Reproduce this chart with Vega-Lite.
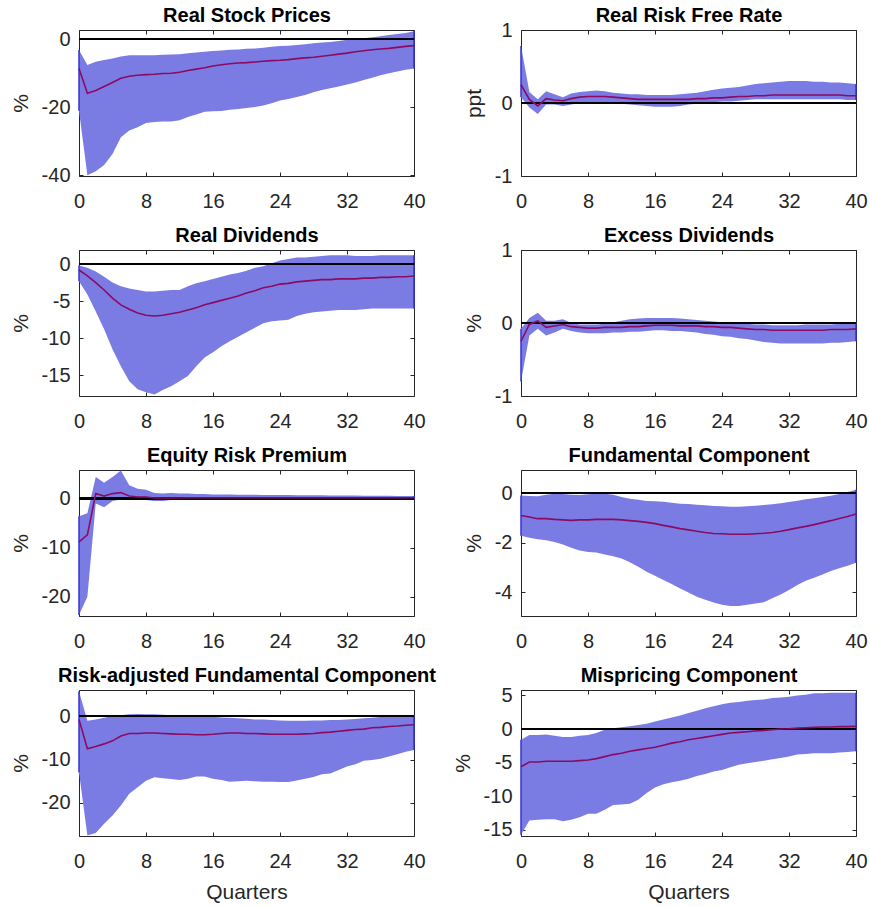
{
  "$schema": "https://vega.github.io/schema/vega-lite/v6.json",
  "padding": {"left": 9, "top": 4, "right": 5, "bottom": 3},
  "background": "white",
  "bounds": "flush",
  "columns": 2,
  "spacing": {"row": 74, "column": 107},
  "datasets": {
    "rsp": [
      {"q":0,"lo":-21,"med":-8.6,"hi":-3.2},{"q":1,"lo":-40,"med":-15.9,"hi":-7.6},{"q":2,"lo":-38.8,"med":-15.1,"hi":-6.6},{"q":3,"lo":-37,"med":-13.9,"hi":-6.1},{"q":4,"lo":-33.7,"med":-12.7,"hi":-5.7},{"q":5,"lo":-28.8,"med":-11.5,"hi":-5.1},{"q":6,"lo":-26.8,"med":-10.9,"hi":-4.7},{"q":7,"lo":-25.9,"med":-10.6,"hi":-4.7},{"q":8,"lo":-24.6,"med":-10.4,"hi":-4.7},{"q":9,"lo":-24.3,"med":-10.3,"hi":-4.7},{"q":10,"lo":-24.2,"med":-10.1,"hi":-4.6},{"q":11,"lo":-24.2,"med":-10.0,"hi":-4.5},{"q":12,"lo":-23.8,"med":-9.7,"hi":-4.4},{"q":13,"lo":-22.9,"med":-9.2,"hi":-4.1},{"q":14,"lo":-22.1,"med":-8.8,"hi":-3.9},{"q":15,"lo":-21.3,"med":-8.4,"hi":-3.7},{"q":16,"lo":-21.2,"med":-7.9,"hi":-3.5},{"q":17,"lo":-21.1,"med":-7.5,"hi":-3.3},{"q":18,"lo":-20.7,"med":-7.2,"hi":-3.1},{"q":19,"lo":-20.5,"med":-7.0,"hi":-3.0},{"q":20,"lo":-20.2,"med":-6.9,"hi":-2.8},{"q":21,"lo":-19.9,"med":-6.7,"hi":-2.7},{"q":22,"lo":-19.5,"med":-6.5,"hi":-2.5},{"q":23,"lo":-18.8,"med":-6.3,"hi":-2.2},{"q":24,"lo":-18.0,"med":-6.2,"hi":-2.0},{"q":25,"lo":-17.6,"med":-6.0,"hi":-1.9},{"q":26,"lo":-17.0,"med":-5.7,"hi":-1.7},{"q":27,"lo":-16.4,"med":-5.5,"hi":-1.5},{"q":28,"lo":-15.6,"med":-5.3,"hi":-1.2},{"q":29,"lo":-14.9,"med":-5.0,"hi":-1.0},{"q":30,"lo":-14.4,"med":-4.7,"hi":-0.8},{"q":31,"lo":-13.9,"med":-4.4,"hi":-0.5},{"q":32,"lo":-13.3,"med":-4.1,"hi":-0.2},{"q":33,"lo":-12.7,"med":-3.7,"hi":0.0},{"q":34,"lo":-12.0,"med":-3.4,"hi":0.3},{"q":35,"lo":-11.3,"med":-3.1,"hi":0.6},{"q":36,"lo":-10.6,"med":-2.9,"hi":0.9},{"q":37,"lo":-10.0,"med":-2.7,"hi":1.2},{"q":38,"lo":-9.5,"med":-2.4,"hi":1.5},{"q":39,"lo":-9.0,"med":-2.1,"hi":1.8},{"q":40,"lo":-8.6,"med":-1.9,"hi":2.3}
    ],
    "rrf": [
      {"q":0,"lo":0.08,"med":0.25,"hi":0.78},{"q":1,"lo":-0.06,"med":0.05,"hi":0.15},{"q":2,"lo":-0.15,"med":-0.04,"hi":0.05},{"q":3,"lo":-0.02,"med":0.06,"hi":0.16},{"q":4,"lo":-0.02,"med":0.04,"hi":0.12},{"q":5,"lo":-0.04,"med":0.03,"hi":0.08},{"q":6,"lo":-0.02,"med":0.06,"hi":0.13},{"q":7,"lo":0.0,"med":0.08,"hi":0.15},{"q":8,"lo":0.01,"med":0.09,"hi":0.16},{"q":9,"lo":0.01,"med":0.09,"hi":0.17},{"q":10,"lo":0.0,"med":0.09,"hi":0.16},{"q":11,"lo":-0.01,"med":0.08,"hi":0.14},{"q":12,"lo":-0.01,"med":0.07,"hi":0.13},{"q":13,"lo":-0.02,"med":0.06,"hi":0.12},{"q":14,"lo":-0.03,"med":0.05,"hi":0.12},{"q":15,"lo":-0.04,"med":0.05,"hi":0.11},{"q":16,"lo":-0.05,"med":0.05,"hi":0.11},{"q":17,"lo":-0.05,"med":0.05,"hi":0.11},{"q":18,"lo":-0.05,"med":0.05,"hi":0.11},{"q":19,"lo":-0.04,"med":0.05,"hi":0.12},{"q":20,"lo":-0.02,"med":0.05,"hi":0.13},{"q":21,"lo":-0.01,"med":0.06,"hi":0.14},{"q":22,"lo":0.0,"med":0.06,"hi":0.16},{"q":23,"lo":0.01,"med":0.07,"hi":0.18},{"q":24,"lo":0.02,"med":0.07,"hi":0.2},{"q":25,"lo":0.02,"med":0.08,"hi":0.21},{"q":26,"lo":0.03,"med":0.09,"hi":0.22},{"q":27,"lo":0.04,"med":0.09,"hi":0.24},{"q":28,"lo":0.05,"med":0.1,"hi":0.26},{"q":29,"lo":0.05,"med":0.1,"hi":0.27},{"q":30,"lo":0.05,"med":0.11,"hi":0.28},{"q":31,"lo":0.05,"med":0.11,"hi":0.29},{"q":32,"lo":0.05,"med":0.11,"hi":0.3},{"q":33,"lo":0.05,"med":0.11,"hi":0.3},{"q":34,"lo":0.05,"med":0.11,"hi":0.3},{"q":35,"lo":0.05,"med":0.11,"hi":0.29},{"q":36,"lo":0.05,"med":0.11,"hi":0.29},{"q":37,"lo":0.05,"med":0.11,"hi":0.28},{"q":38,"lo":0.05,"med":0.11,"hi":0.28},{"q":39,"lo":0.04,"med":0.1,"hi":0.27},{"q":40,"lo":0.04,"med":0.1,"hi":0.26}
    ],
    "rd": [
      {"q":0,"lo":-2.3,"med":-0.8,"hi":-0.2},{"q":1,"lo":-4.1,"med":-1.6,"hi":-0.5},{"q":2,"lo":-6.4,"med":-2.5,"hi":-1.0},{"q":3,"lo":-8.8,"med":-3.5,"hi":-1.7},{"q":4,"lo":-11.5,"med":-4.6,"hi":-2.5},{"q":5,"lo":-13.8,"med":-5.5,"hi":-3.0},{"q":6,"lo":-15.8,"med":-6.1,"hi":-3.3},{"q":7,"lo":-16.9,"med":-6.6,"hi":-3.5},{"q":8,"lo":-17.3,"med":-6.9,"hi":-3.7},{"q":9,"lo":-17.6,"med":-7.0,"hi":-3.7},{"q":10,"lo":-17.0,"med":-6.9,"hi":-3.6},{"q":11,"lo":-16.5,"med":-6.7,"hi":-3.5},{"q":12,"lo":-15.8,"med":-6.5,"hi":-3.5},{"q":13,"lo":-15.1,"med":-6.2,"hi":-3.0},{"q":14,"lo":-13.8,"med":-5.9,"hi":-2.6},{"q":15,"lo":-12.6,"med":-5.5,"hi":-2.3},{"q":16,"lo":-11.9,"med":-5.2,"hi":-2.0},{"q":17,"lo":-11.1,"med":-4.9,"hi":-1.7},{"q":18,"lo":-10.4,"med":-4.6,"hi":-1.4},{"q":19,"lo":-9.8,"med":-4.3,"hi":-1.2},{"q":20,"lo":-9.2,"med":-3.9,"hi":-0.9},{"q":21,"lo":-8.6,"med":-3.6,"hi":-0.5},{"q":22,"lo":-8.0,"med":-3.2,"hi":-0.3},{"q":23,"lo":-7.7,"med":-3.0,"hi":0.1},{"q":24,"lo":-7.6,"med":-2.7,"hi":0.5},{"q":25,"lo":-7.5,"med":-2.6,"hi":0.7},{"q":26,"lo":-7.0,"med":-2.4,"hi":0.9},{"q":27,"lo":-6.7,"med":-2.3,"hi":0.9},{"q":28,"lo":-6.5,"med":-2.2,"hi":1.0},{"q":29,"lo":-6.4,"med":-2.1,"hi":1.1},{"q":30,"lo":-6.3,"med":-2.1,"hi":1.2},{"q":31,"lo":-6.2,"med":-2.0,"hi":1.2},{"q":32,"lo":-6.2,"med":-2.0,"hi":1.2},{"q":33,"lo":-6.2,"med":-2.0,"hi":1.1},{"q":34,"lo":-6.1,"med":-1.9,"hi":1.1},{"q":35,"lo":-6.0,"med":-1.9,"hi":1.1},{"q":36,"lo":-6.0,"med":-1.8,"hi":1.2},{"q":37,"lo":-6.0,"med":-1.8,"hi":1.2},{"q":38,"lo":-6.0,"med":-1.7,"hi":1.2},{"q":39,"lo":-6.0,"med":-1.7,"hi":1.2},{"q":40,"lo":-6.0,"med":-1.6,"hi":1.2}
    ],
    "ed": [
      {"q":0,"lo":-0.8,"med":-0.25,"hi":-0.08},{"q":1,"lo":-0.17,"med":-0.02,"hi":0.07},{"q":2,"lo":-0.08,"med":0.03,"hi":0.14},{"q":3,"lo":-0.17,"med":-0.06,"hi":0.03},{"q":4,"lo":-0.13,"med":-0.04,"hi":0.03},{"q":5,"lo":-0.08,"med":-0.02,"hi":0.05},{"q":6,"lo":-0.11,"med":-0.05,"hi":0.0},{"q":7,"lo":-0.13,"med":-0.06,"hi":-0.02},{"q":8,"lo":-0.14,"med":-0.07,"hi":-0.02},{"q":9,"lo":-0.14,"med":-0.07,"hi":-0.02},{"q":10,"lo":-0.14,"med":-0.06,"hi":-0.01},{"q":11,"lo":-0.13,"med":-0.06,"hi":0.01},{"q":12,"lo":-0.13,"med":-0.06,"hi":0.03},{"q":13,"lo":-0.12,"med":-0.05,"hi":0.05},{"q":14,"lo":-0.12,"med":-0.05,"hi":0.06},{"q":15,"lo":-0.11,"med":-0.04,"hi":0.07},{"q":16,"lo":-0.1,"med":-0.03,"hi":0.07},{"q":17,"lo":-0.1,"med":-0.03,"hi":0.07},{"q":18,"lo":-0.11,"med":-0.03,"hi":0.07},{"q":19,"lo":-0.11,"med":-0.04,"hi":0.06},{"q":20,"lo":-0.12,"med":-0.04,"hi":0.05},{"q":21,"lo":-0.13,"med":-0.04,"hi":0.04},{"q":22,"lo":-0.15,"med":-0.05,"hi":0.03},{"q":23,"lo":-0.16,"med":-0.05,"hi":0.02},{"q":24,"lo":-0.18,"med":-0.06,"hi":0.01},{"q":25,"lo":-0.19,"med":-0.06,"hi":0.0},{"q":26,"lo":-0.21,"med":-0.07,"hi":0.0},{"q":27,"lo":-0.22,"med":-0.08,"hi":-0.01},{"q":28,"lo":-0.24,"med":-0.09,"hi":-0.02},{"q":29,"lo":-0.26,"med":-0.09,"hi":-0.02},{"q":30,"lo":-0.27,"med":-0.1,"hi":-0.03},{"q":31,"lo":-0.28,"med":-0.1,"hi":-0.03},{"q":32,"lo":-0.28,"med":-0.1,"hi":-0.03},{"q":33,"lo":-0.28,"med":-0.1,"hi":-0.03},{"q":34,"lo":-0.28,"med":-0.1,"hi":-0.02},{"q":35,"lo":-0.28,"med":-0.1,"hi":-0.02},{"q":36,"lo":-0.28,"med":-0.1,"hi":-0.02},{"q":37,"lo":-0.27,"med":-0.09,"hi":-0.02},{"q":38,"lo":-0.27,"med":-0.09,"hi":-0.01},{"q":39,"lo":-0.26,"med":-0.09,"hi":-0.01},{"q":40,"lo":-0.25,"med":-0.08,"hi":0.0}
    ],
    "erp": [
      {"q":0,"lo":-23.7,"med":-8.8,"hi":-3.6},{"q":1,"lo":-20.0,"med":-7.4,"hi":-3.0},{"q":2,"lo":-1.0,"med":1.0,"hi":4.4},{"q":3,"lo":-1.8,"med":0.5,"hi":3.2},{"q":4,"lo":-0.5,"med":1.0,"hi":4.4},{"q":5,"lo":-0.2,"med":1.2,"hi":5.7},{"q":6,"lo":-0.3,"med":0.5,"hi":2.7},{"q":7,"lo":-0.3,"med":0.3,"hi":2.0},{"q":8,"lo":-0.3,"med":0.3,"hi":1.8},{"q":9,"lo":-0.5,"med":0.1,"hi":1.1},{"q":10,"lo":-0.5,"med":0.1,"hi":1.0},{"q":11,"lo":-0.3,"med":0.1,"hi":1.1},{"q":12,"lo":-0.3,"med":0.1,"hi":1.0},{"q":13,"lo":-0.2,"med":0.15,"hi":1.0},{"q":14,"lo":-0.2,"med":0.15,"hi":0.9},{"q":15,"lo":-0.2,"med":0.15,"hi":0.9},{"q":16,"lo":-0.2,"med":0.15,"hi":0.8},{"q":17,"lo":-0.2,"med":0.15,"hi":0.8},{"q":18,"lo":-0.2,"med":0.15,"hi":0.8},{"q":19,"lo":-0.2,"med":0.15,"hi":0.78},{"q":20,"lo":-0.2,"med":0.15,"hi":0.75},{"q":21,"lo":-0.2,"med":0.15,"hi":0.74},{"q":22,"lo":-0.22,"med":0.15,"hi":0.72},{"q":23,"lo":-0.24,"med":0.15,"hi":0.71},{"q":24,"lo":-0.25,"med":0.15,"hi":0.7},{"q":25,"lo":-0.25,"med":0.15,"hi":0.69},{"q":26,"lo":-0.25,"med":0.15,"hi":0.68},{"q":27,"lo":-0.25,"med":0.15,"hi":0.66},{"q":28,"lo":-0.25,"med":0.15,"hi":0.65},{"q":29,"lo":-0.26,"med":0.15,"hi":0.64},{"q":30,"lo":-0.27,"med":0.15,"hi":0.62},{"q":31,"lo":-0.28,"med":0.15,"hi":0.61},{"q":32,"lo":-0.3,"med":0.15,"hi":0.6},{"q":33,"lo":-0.3,"med":0.15,"hi":0.59},{"q":34,"lo":-0.3,"med":0.15,"hi":0.58},{"q":35,"lo":-0.3,"med":0.15,"hi":0.56},{"q":36,"lo":-0.3,"med":0.15,"hi":0.55},{"q":37,"lo":-0.3,"med":0.15,"hi":0.54},{"q":38,"lo":-0.3,"med":0.15,"hi":0.52},{"q":39,"lo":-0.3,"med":0.15,"hi":0.51},{"q":40,"lo":-0.3,"med":0.15,"hi":0.5}
    ],
    "fc": [
      {"q":0,"lo":-1.72,"med":-0.9,"hi":-0.1},{"q":1,"lo":-1.8,"med":-0.96,"hi":-0.12},{"q":2,"lo":-1.86,"med":-1.03,"hi":-0.13},{"q":3,"lo":-1.9,"med":-1.03,"hi":-0.07},{"q":4,"lo":-1.97,"med":-1.06,"hi":-0.03},{"q":5,"lo":-2.07,"med":-1.08,"hi":-0.04},{"q":6,"lo":-2.2,"med":-1.1,"hi":-0.07},{"q":7,"lo":-2.31,"med":-1.08,"hi":-0.08},{"q":8,"lo":-2.37,"med":-1.08,"hi":-0.05},{"q":9,"lo":-2.39,"med":-1.06,"hi":-0.03},{"q":10,"lo":-2.47,"med":-1.06,"hi":-0.03},{"q":11,"lo":-2.54,"med":-1.06,"hi":-0.07},{"q":12,"lo":-2.63,"med":-1.08,"hi":-0.16},{"q":13,"lo":-2.79,"med":-1.11,"hi":-0.23},{"q":14,"lo":-2.97,"med":-1.14,"hi":-0.27},{"q":15,"lo":-3.17,"med":-1.18,"hi":-0.32},{"q":16,"lo":-3.33,"med":-1.23,"hi":-0.33},{"q":17,"lo":-3.5,"med":-1.3,"hi":-0.35},{"q":18,"lo":-3.66,"med":-1.36,"hi":-0.39},{"q":19,"lo":-3.84,"med":-1.43,"hi":-0.43},{"q":20,"lo":-4.0,"med":-1.48,"hi":-0.44},{"q":21,"lo":-4.17,"med":-1.54,"hi":-0.47},{"q":22,"lo":-4.3,"med":-1.59,"hi":-0.49},{"q":23,"lo":-4.41,"med":-1.63,"hi":-0.52},{"q":24,"lo":-4.5,"med":-1.64,"hi":-0.53},{"q":25,"lo":-4.55,"med":-1.66,"hi":-0.55},{"q":26,"lo":-4.55,"med":-1.66,"hi":-0.55},{"q":27,"lo":-4.5,"med":-1.66,"hi":-0.53},{"q":28,"lo":-4.45,"med":-1.64,"hi":-0.51},{"q":29,"lo":-4.4,"med":-1.62,"hi":-0.48},{"q":30,"lo":-4.24,"med":-1.59,"hi":-0.45},{"q":31,"lo":-4.08,"med":-1.54,"hi":-0.41},{"q":32,"lo":-3.9,"med":-1.47,"hi":-0.36},{"q":33,"lo":-3.7,"med":-1.4,"hi":-0.31},{"q":34,"lo":-3.53,"med":-1.34,"hi":-0.25},{"q":35,"lo":-3.41,"med":-1.27,"hi":-0.21},{"q":36,"lo":-3.28,"med":-1.19,"hi":-0.16},{"q":37,"lo":-3.14,"med":-1.11,"hi":-0.11},{"q":38,"lo":-3.03,"med":-1.02,"hi":-0.04},{"q":39,"lo":-2.93,"med":-0.94,"hi":0.04},{"q":40,"lo":-2.81,"med":-0.84,"hi":0.13}
    ],
    "rafc": [
      {"q":0,"lo":-13,"med":-0.8,"hi":5.7},{"q":1,"lo":-27.5,"med":-7.5,"hi":-1.1},{"q":2,"lo":-26.9,"med":-7.0,"hi":-0.8},{"q":3,"lo":-24.8,"med":-6.4,"hi":-0.4},{"q":4,"lo":-22.9,"med":-5.7,"hi":0.0},{"q":5,"lo":-20.6,"med":-4.6,"hi":0.2},{"q":6,"lo":-17.9,"med":-4.0,"hi":0.4},{"q":7,"lo":-16.4,"med":-4.0,"hi":0.5},{"q":8,"lo":-14.9,"med":-3.9,"hi":0.4},{"q":9,"lo":-14.1,"med":-3.9,"hi":0.4},{"q":10,"lo":-14.3,"med":-4.0,"hi":0.3},{"q":11,"lo":-14.5,"med":-4.1,"hi":0.2},{"q":12,"lo":-14.7,"med":-4.2,"hi":0.15},{"q":13,"lo":-14.4,"med":-4.2,"hi":0.1},{"q":14,"lo":-13.9,"med":-4.3,"hi":0.0},{"q":15,"lo":-13.9,"med":-4.3,"hi":-0.1},{"q":16,"lo":-14.4,"med":-4.2,"hi":-0.15},{"q":17,"lo":-14.7,"med":-4.0,"hi":-0.3},{"q":18,"lo":-15.1,"med":-3.9,"hi":-0.4},{"q":19,"lo":-15.0,"med":-3.9,"hi":-0.5},{"q":20,"lo":-14.9,"med":-4.0,"hi":-0.6},{"q":21,"lo":-15.0,"med":-4.0,"hi":-0.8},{"q":22,"lo":-15.1,"med":-4.1,"hi":-0.8},{"q":23,"lo":-15.1,"med":-4.2,"hi":-0.9},{"q":24,"lo":-15.2,"med":-4.2,"hi":-1.0},{"q":25,"lo":-15.2,"med":-4.2,"hi":-1.1},{"q":26,"lo":-14.8,"med":-4.2,"hi":-1.1},{"q":27,"lo":-14.4,"med":-4.1,"hi":-1.1},{"q":28,"lo":-14.0,"med":-4.0,"hi":-1.0},{"q":29,"lo":-13.4,"med":-3.8,"hi":-1.0},{"q":30,"lo":-13.2,"med":-3.7,"hi":-0.9},{"q":31,"lo":-12.4,"med":-3.5,"hi":-0.9},{"q":32,"lo":-11.6,"med":-3.3,"hi":-0.8},{"q":33,"lo":-11.1,"med":-3.1,"hi":-0.7},{"q":34,"lo":-10.3,"med":-3.0,"hi":-0.5},{"q":35,"lo":-10.1,"med":-2.7,"hi":-0.4},{"q":36,"lo":-9.8,"med":-2.6,"hi":-0.2},{"q":37,"lo":-9.3,"med":-2.4,"hi":-0.1},{"q":38,"lo":-8.8,"med":-2.3,"hi":0.1},{"q":39,"lo":-8.2,"med":-2.1,"hi":0.15},{"q":40,"lo":-7.8,"med":-2.0,"hi":0.2}
    ],
    "mc": [
      {"q":0,"lo":-15.7,"med":-5.6,"hi":-1.6},{"q":1,"lo":-13.6,"med":-4.9,"hi":-0.9},{"q":2,"lo":-13.5,"med":-4.9,"hi":-0.9},{"q":3,"lo":-13.4,"med":-4.8,"hi":-0.8},{"q":4,"lo":-13.4,"med":-4.8,"hi":-1.0},{"q":5,"lo":-13.7,"med":-4.8,"hi":-1.2},{"q":6,"lo":-13.5,"med":-4.8,"hi":-1.2},{"q":7,"lo":-13.1,"med":-4.7,"hi":-1.0},{"q":8,"lo":-12.6,"med":-4.6,"hi":-0.9},{"q":9,"lo":-12.6,"med":-4.4,"hi":-0.6},{"q":10,"lo":-12.0,"med":-4.1,"hi":-0.1},{"q":11,"lo":-11.3,"med":-3.8,"hi":0.1},{"q":12,"lo":-11.2,"med":-3.6,"hi":0.25},{"q":13,"lo":-11.1,"med":-3.3,"hi":0.4},{"q":14,"lo":-10.5,"med":-3.1,"hi":0.6},{"q":15,"lo":-9.5,"med":-2.9,"hi":0.8},{"q":16,"lo":-8.7,"med":-2.7,"hi":1.1},{"q":17,"lo":-8.2,"med":-2.4,"hi":1.4},{"q":18,"lo":-7.9,"med":-2.1,"hi":1.7},{"q":19,"lo":-7.7,"med":-1.9,"hi":2.0},{"q":20,"lo":-7.4,"med":-1.6,"hi":2.4},{"q":21,"lo":-7.0,"med":-1.4,"hi":2.7},{"q":22,"lo":-6.7,"med":-1.2,"hi":3.1},{"q":23,"lo":-6.3,"med":-1.0,"hi":3.4},{"q":24,"lo":-6.1,"med":-0.8,"hi":3.7},{"q":25,"lo":-5.7,"med":-0.6,"hi":3.9},{"q":26,"lo":-5.3,"med":-0.5,"hi":4.0},{"q":27,"lo":-5.1,"med":-0.4,"hi":4.2},{"q":28,"lo":-4.9,"med":-0.3,"hi":4.3},{"q":29,"lo":-4.7,"med":-0.2,"hi":4.4},{"q":30,"lo":-4.5,"med":-0.1,"hi":4.6},{"q":31,"lo":-4.3,"med":0.0,"hi":4.7},{"q":32,"lo":-4.1,"med":0.05,"hi":4.8},{"q":33,"lo":-3.8,"med":0.15,"hi":5.0},{"q":34,"lo":-3.7,"med":0.2,"hi":5.1},{"q":35,"lo":-3.6,"med":0.25,"hi":5.3},{"q":36,"lo":-3.6,"med":0.3,"hi":5.3},{"q":37,"lo":-3.6,"med":0.3,"hi":5.4},{"q":38,"lo":-3.5,"med":0.35,"hi":5.4},{"q":39,"lo":-3.4,"med":0.35,"hi":5.4},{"q":40,"lo":-3.3,"med":0.4,"hi":5.4}
    ]
  },
  "concat": [
    {
      "width": 335, "height": 146, "data": {"name": "rsp"},
      "layer": [
        {"mark": {"type": "area", "color": "#7b7be4", "opacity": 1},
         "encoding": {
           "x": {"field": "q", "type": "quantitative", "scale": {"domain": [0, 40], "nice": false, "zero": false}, "axis": {"values": [0, 8, 16, 24, 32, 40], "title": null}},
           "y": {"field": "lo", "type": "quantitative", "scale": {"domain": [-40.2, 2.7], "nice": false, "zero": false}, "axis": {"values": [-40, -20, 0], "title": "%"}},
           "y2": {"field": "hi"}}},
        {"transform": [{"filter": "datum.q == 0 || datum.q == 40"}], "mark": {"type": "rule", "color": "#3333d6", "strokeWidth": 1.5},
         "encoding": {"x": {"field": "q", "type": "quantitative", "axis": null}, "y": {"field": "lo", "type": "quantitative", "axis": null}, "y2": {"field": "hi"}}},
        {"mark": {"type": "rule", "color": "black", "strokeWidth": 1.3}, "encoding": {"y": {"datum": 0, "type": "quantitative", "axis": null}}},
        {"mark": {"type": "line", "color": "#8b0b62", "strokeWidth": 1.6},
         "encoding": {
           "x": {"field": "q", "type": "quantitative", "axis": {"orient": "top", "labels": false, "title": "Real Stock Prices", "values": [0, 8, 16, 24, 32, 40]}},
           "y": {"field": "med", "type": "quantitative", "axis": {"orient": "right", "labels": false, "title": null, "values": [-40, -20, 0]}}}}
      ],
      "resolve": {"axis": {"x": "independent", "y": "independent"}}
    },
    {
      "width": 335, "height": 146, "data": {"name": "rrf"},
      "layer": [
        {"mark": {"type": "area", "color": "#7b7be4", "opacity": 1},
         "encoding": {
           "x": {"field": "q", "type": "quantitative", "scale": {"domain": [0, 40], "nice": false, "zero": false}, "axis": {"values": [0, 8, 16, 24, 32, 40], "title": null}},
           "y": {"field": "lo", "type": "quantitative", "scale": {"domain": [-1, 1], "nice": false, "zero": false}, "axis": {"values": [-1, 0, 1], "title": "ppt"}},
           "y2": {"field": "hi"}}},
        {"transform": [{"filter": "datum.q == 0 || datum.q == 40"}], "mark": {"type": "rule", "color": "#3333d6", "strokeWidth": 1.5},
         "encoding": {"x": {"field": "q", "type": "quantitative", "axis": null}, "y": {"field": "lo", "type": "quantitative", "axis": null}, "y2": {"field": "hi"}}},
        {"mark": {"type": "rule", "color": "black", "strokeWidth": 1.3}, "encoding": {"y": {"datum": 0, "type": "quantitative", "axis": null}}},
        {"mark": {"type": "line", "color": "#8b0b62", "strokeWidth": 1.6},
         "encoding": {
           "x": {"field": "q", "type": "quantitative", "axis": {"orient": "top", "labels": false, "title": "Real Risk Free Rate", "values": [0, 8, 16, 24, 32, 40]}},
           "y": {"field": "med", "type": "quantitative", "axis": {"orient": "right", "labels": false, "title": null, "values": [-1, 0, 1]}}}}
      ],
      "resolve": {"axis": {"x": "independent", "y": "independent"}}
    },
    {
      "width": 335, "height": 146, "data": {"name": "rd"},
      "layer": [
        {"mark": {"type": "area", "color": "#7b7be4", "opacity": 1},
         "encoding": {
           "x": {"field": "q", "type": "quantitative", "scale": {"domain": [0, 40], "nice": false, "zero": false}, "axis": {"values": [0, 8, 16, 24, 32, 40], "title": null}},
           "y": {"field": "lo", "type": "quantitative", "scale": {"domain": [-17.8, 1.9], "nice": false, "zero": false}, "axis": {"values": [-15, -10, -5, 0], "title": "%"}},
           "y2": {"field": "hi"}}},
        {"transform": [{"filter": "datum.q == 0 || datum.q == 40"}], "mark": {"type": "rule", "color": "#3333d6", "strokeWidth": 1.5},
         "encoding": {"x": {"field": "q", "type": "quantitative", "axis": null}, "y": {"field": "lo", "type": "quantitative", "axis": null}, "y2": {"field": "hi"}}},
        {"mark": {"type": "rule", "color": "black", "strokeWidth": 1.3}, "encoding": {"y": {"datum": 0, "type": "quantitative", "axis": null}}},
        {"mark": {"type": "line", "color": "#8b0b62", "strokeWidth": 1.6},
         "encoding": {
           "x": {"field": "q", "type": "quantitative", "axis": {"orient": "top", "labels": false, "title": "Real Dividends", "values": [0, 8, 16, 24, 32, 40]}},
           "y": {"field": "med", "type": "quantitative", "axis": {"orient": "right", "labels": false, "title": null, "values": [-15, -10, -5, 0]}}}}
      ],
      "resolve": {"axis": {"x": "independent", "y": "independent"}}
    },
    {
      "width": 335, "height": 146, "data": {"name": "ed"},
      "layer": [
        {"mark": {"type": "area", "color": "#7b7be4", "opacity": 1},
         "encoding": {
           "x": {"field": "q", "type": "quantitative", "scale": {"domain": [0, 40], "nice": false, "zero": false}, "axis": {"values": [0, 8, 16, 24, 32, 40], "title": null}},
           "y": {"field": "lo", "type": "quantitative", "scale": {"domain": [-1, 1], "nice": false, "zero": false}, "axis": {"values": [-1, 0, 1], "title": "%"}},
           "y2": {"field": "hi"}}},
        {"transform": [{"filter": "datum.q == 0 || datum.q == 40"}], "mark": {"type": "rule", "color": "#3333d6", "strokeWidth": 1.5},
         "encoding": {"x": {"field": "q", "type": "quantitative", "axis": null}, "y": {"field": "lo", "type": "quantitative", "axis": null}, "y2": {"field": "hi"}}},
        {"mark": {"type": "rule", "color": "black", "strokeWidth": 1.3}, "encoding": {"y": {"datum": 0, "type": "quantitative", "axis": null}}},
        {"mark": {"type": "line", "color": "#8b0b62", "strokeWidth": 1.6},
         "encoding": {
           "x": {"field": "q", "type": "quantitative", "axis": {"orient": "top", "labels": false, "title": "Excess Dividends", "values": [0, 8, 16, 24, 32, 40]}},
           "y": {"field": "med", "type": "quantitative", "axis": {"orient": "right", "labels": false, "title": null, "values": [-1, 0, 1]}}}}
      ],
      "resolve": {"axis": {"x": "independent", "y": "independent"}}
    },
    {
      "width": 335, "height": 146, "data": {"name": "erp"},
      "layer": [
        {"mark": {"type": "area", "color": "#7b7be4", "opacity": 1},
         "encoding": {
           "x": {"field": "q", "type": "quantitative", "scale": {"domain": [0, 40], "nice": false, "zero": false}, "axis": {"values": [0, 8, 16, 24, 32, 40], "title": null}},
           "y": {"field": "lo", "type": "quantitative", "scale": {"domain": [-23.9, 5.8], "nice": false, "zero": false}, "axis": {"values": [-20, -10, 0], "title": "%"}},
           "y2": {"field": "hi"}}},
        {"transform": [{"filter": "datum.q == 0 || datum.q == 40"}], "mark": {"type": "rule", "color": "#3333d6", "strokeWidth": 1.5},
         "encoding": {"x": {"field": "q", "type": "quantitative", "axis": null}, "y": {"field": "lo", "type": "quantitative", "axis": null}, "y2": {"field": "hi"}}},
        {"mark": {"type": "rule", "color": "black", "strokeWidth": 1.3}, "encoding": {"y": {"datum": 0, "type": "quantitative", "axis": null}}},
        {"mark": {"type": "line", "color": "#8b0b62", "strokeWidth": 1.6},
         "encoding": {
           "x": {"field": "q", "type": "quantitative", "axis": {"orient": "top", "labels": false, "title": "Equity Risk Premium", "values": [0, 8, 16, 24, 32, 40]}},
           "y": {"field": "med", "type": "quantitative", "axis": {"orient": "right", "labels": false, "title": null, "values": [-20, -10, 0]}}}}
      ],
      "resolve": {"axis": {"x": "independent", "y": "independent"}}
    },
    {
      "width": 335, "height": 146, "data": {"name": "fc"},
      "layer": [
        {"mark": {"type": "area", "color": "#7b7be4", "opacity": 1},
         "encoding": {
           "x": {"field": "q", "type": "quantitative", "scale": {"domain": [0, 40], "nice": false, "zero": false}, "axis": {"values": [0, 8, 16, 24, 32, 40], "title": null}},
           "y": {"field": "lo", "type": "quantitative", "scale": {"domain": [-4.95, 0.93], "nice": false, "zero": false}, "axis": {"values": [-4, -2, 0], "title": "%"}},
           "y2": {"field": "hi"}}},
        {"transform": [{"filter": "datum.q == 0 || datum.q == 40"}], "mark": {"type": "rule", "color": "#3333d6", "strokeWidth": 1.5},
         "encoding": {"x": {"field": "q", "type": "quantitative", "axis": null}, "y": {"field": "lo", "type": "quantitative", "axis": null}, "y2": {"field": "hi"}}},
        {"mark": {"type": "rule", "color": "black", "strokeWidth": 1.3}, "encoding": {"y": {"datum": 0, "type": "quantitative", "axis": null}}},
        {"mark": {"type": "line", "color": "#8b0b62", "strokeWidth": 1.6},
         "encoding": {
           "x": {"field": "q", "type": "quantitative", "axis": {"orient": "top", "labels": false, "title": "Fundamental Component", "values": [0, 8, 16, 24, 32, 40]}},
           "y": {"field": "med", "type": "quantitative", "axis": {"orient": "right", "labels": false, "title": null, "values": [-4, -2, 0]}}}}
      ],
      "resolve": {"axis": {"x": "independent", "y": "independent"}}
    },
    {
      "width": 335, "height": 146, "data": {"name": "rafc"},
      "layer": [
        {"mark": {"type": "area", "color": "#7b7be4", "opacity": 1},
         "encoding": {
           "x": {"field": "q", "type": "quantitative", "scale": {"domain": [0, 40], "nice": false, "zero": false}, "axis": {"values": [0, 8, 16, 24, 32, 40], "title": "Quarters"}},
           "y": {"field": "lo", "type": "quantitative", "scale": {"domain": [-27.6, 6.0], "nice": false, "zero": false}, "axis": {"values": [-20, -10, 0], "title": "%"}},
           "y2": {"field": "hi"}}},
        {"transform": [{"filter": "datum.q == 0 || datum.q == 40"}], "mark": {"type": "rule", "color": "#3333d6", "strokeWidth": 1.5},
         "encoding": {"x": {"field": "q", "type": "quantitative", "axis": null}, "y": {"field": "lo", "type": "quantitative", "axis": null}, "y2": {"field": "hi"}}},
        {"mark": {"type": "rule", "color": "black", "strokeWidth": 1.3}, "encoding": {"y": {"datum": 0, "type": "quantitative", "axis": null}}},
        {"mark": {"type": "line", "color": "#8b0b62", "strokeWidth": 1.6},
         "encoding": {
           "x": {"field": "q", "type": "quantitative", "axis": {"orient": "top", "labels": false, "title": "Risk-adjusted Fundamental Component", "values": [0, 8, 16, 24, 32, 40]}},
           "y": {"field": "med", "type": "quantitative", "axis": {"orient": "right", "labels": false, "title": null, "values": [-20, -10, 0]}}}}
      ],
      "resolve": {"axis": {"x": "independent", "y": "independent"}}
    },
    {
      "width": 335, "height": 146, "data": {"name": "mc"},
      "layer": [
        {"mark": {"type": "area", "color": "#7b7be4", "opacity": 1},
         "encoding": {
           "x": {"field": "q", "type": "quantitative", "scale": {"domain": [0, 40], "nice": false, "zero": false}, "axis": {"values": [0, 8, 16, 24, 32, 40], "title": "Quarters"}},
           "y": {"field": "lo", "type": "quantitative", "scale": {"domain": [-15.9, 5.8], "nice": false, "zero": false}, "axis": {"values": [-15, -10, -5, 0, 5], "title": "%"}},
           "y2": {"field": "hi"}}},
        {"transform": [{"filter": "datum.q == 0 || datum.q == 40"}], "mark": {"type": "rule", "color": "#3333d6", "strokeWidth": 1.5},
         "encoding": {"x": {"field": "q", "type": "quantitative", "axis": null}, "y": {"field": "lo", "type": "quantitative", "axis": null}, "y2": {"field": "hi"}}},
        {"mark": {"type": "rule", "color": "black", "strokeWidth": 1.3}, "encoding": {"y": {"datum": 0, "type": "quantitative", "axis": null}}},
        {"mark": {"type": "line", "color": "#8b0b62", "strokeWidth": 1.6},
         "encoding": {
           "x": {"field": "q", "type": "quantitative", "axis": {"orient": "top", "labels": false, "title": "Mispricing Component", "values": [0, 8, 16, 24, 32, 40]}},
           "y": {"field": "med", "type": "quantitative", "axis": {"orient": "right", "labels": false, "title": null, "values": [-15, -10, -5, 0, 5]}}}}
      ],
      "resolve": {"axis": {"x": "independent", "y": "independent"}}
    }
  ],
  "config": {
    "font": "Liberation Sans",
    "view": {"stroke": "#262626", "strokeWidth": 1},
    "axis": {
      "domain": false, "grid": false,
      "tickSize": -4, "tickColor": "#262626", "tickWidth": 1,
      "labelFont": "Liberation Sans", "labelFontSize": 20, "labelColor": "#262626",
      "labelExpr": "'' + datum.value",
      "titleFont": "Liberation Sans", "titleFontSize": 21, "titleFontWeight": "normal", "titleColor": "#262626"
    },
    "axisX": {"labelPadding": 19, "titlePadding": 10, "labelFlush": false},
    "axisY": {"labelPadding": 13, "titlePadding": 10, "labelFlush": false},
    "axisTop": {"titleFontSize": 20, "titleFontWeight": "bold", "titleColor": "black", "titlePadding": 9, "titleBaseline": "alphabetic", "minExtent": 0, "maxExtent": 0}
  }
}
